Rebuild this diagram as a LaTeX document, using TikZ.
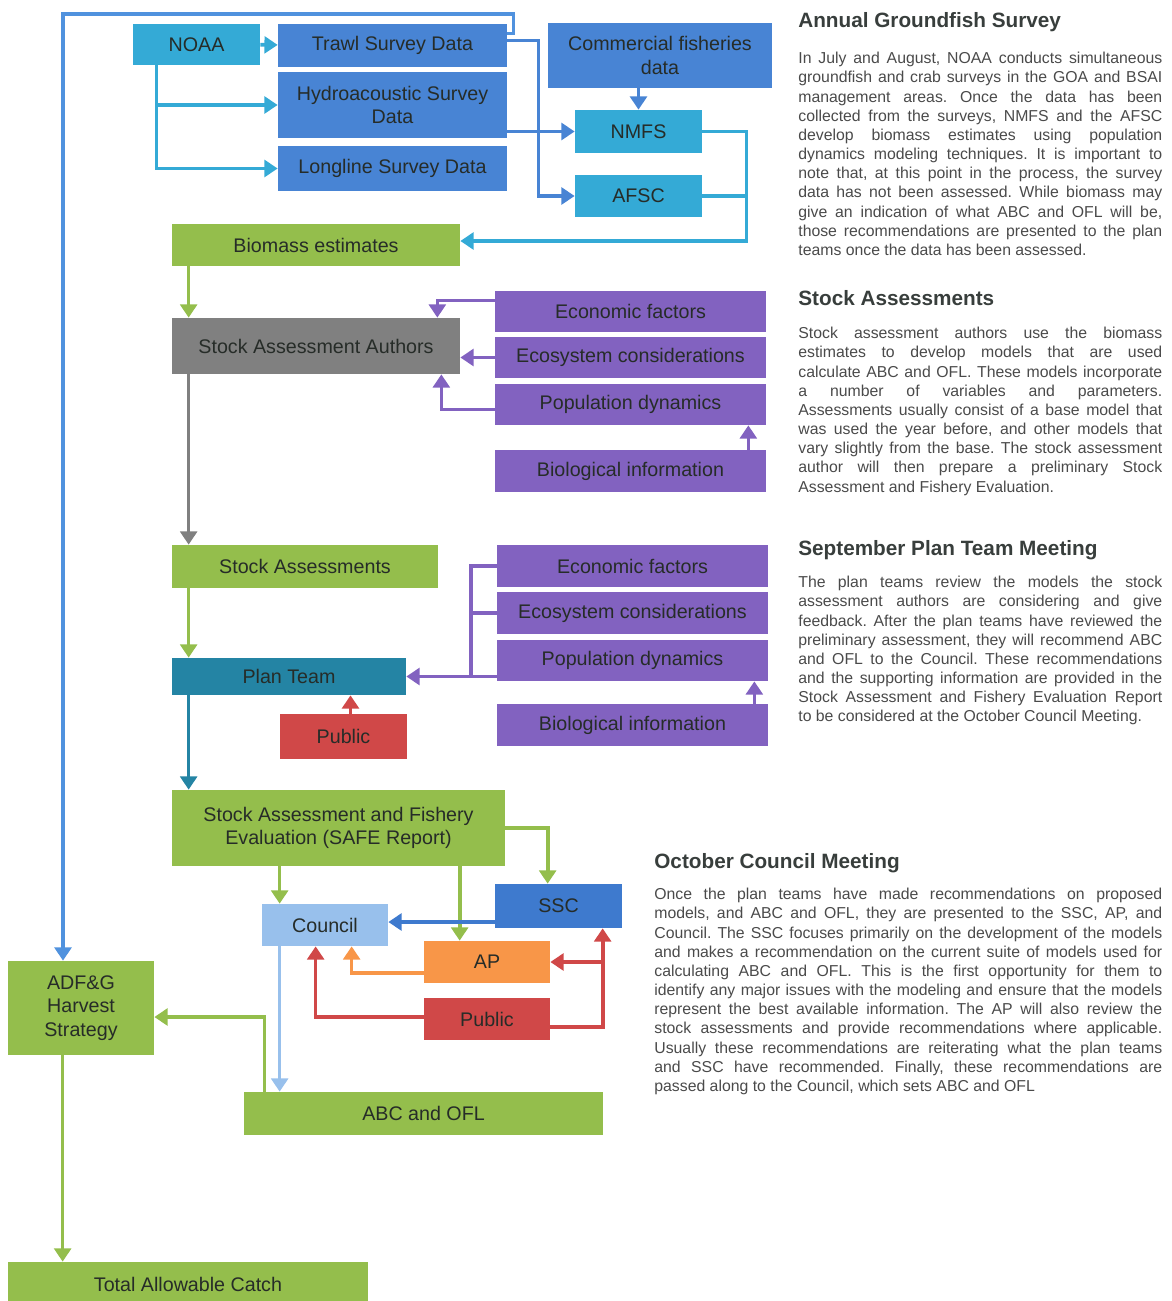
\documentclass[tikz,border=0pt]{standalone}
\usepackage{fontspec}
\setmainfont{Liberation Sans}
\usetikzlibrary{arrows.meta,calc}
\definecolor{noaacyan}{RGB}{52,170,214}
\definecolor{datablue}{RGB}{72,132,212}
\definecolor{loopblue}{RGB}{80,146,222}
\definecolor{leafgreen}{RGB}{148,190,76}
\definecolor{authgray}{RGB}{128,128,128}
\definecolor{factpurple}{RGB}{130,98,192}
\definecolor{teamteal}{RGB}{36,132,164}
\definecolor{pubred}{RGB}{208,72,72}
\definecolor{sscblue}{RGB}{62,122,206}
\definecolor{councilblue}{RGB}{152,192,236}
\definecolor{aporange}{RGB}{248,150,72}
\definecolor{inkdark}{RGB}{38,44,40}
\definecolor{headgray}{RGB}{56,62,60}
\definecolor{bodygray}{RGB}{74,74,74}
\newcommand{\boxfont}{\fontsize{11.2}{13.4}\selectfont}
\newcommand{\bodyfont}{\fontsize{9}{10.9}\selectfont\hyphenpenalty=10000\frenchspacing}
\newcommand{\headfont}{\fontsize{11.8}{14}\selectfont\bfseries}

\begin{document}
\begin{tikzpicture}[x=0.02cm,y=-0.02cm,
  box/.style={rectangle,fill=#1,text=inkdark,inner sep=1pt,align=center,font=\boxfont},
  dims/.style 2 args={minimum width=#1*0.02cm,minimum height=#2*0.02cm},
  link/.style={draw=#1,line width=2.1pt,-{Triangle[width=9.5pt,length=7.5pt]}},
  wire/.style={draw=#1,line width=2.1pt},
  head/.style={anchor=base west,inner sep=0pt,font=\headfont,text=headgray},
  body/.style={anchor=north west,inner sep=0pt,font=\bodyfont,text=bodygray,align=justify,text width=#1}]
\useasboundingbox (0,0) rectangle (1171,1301);

% survey data
\node[box=noaacyan,dims={127}{41}] (noaa) at (196.5,44.5) {NOAA};
\node[box=datablue,dims={229}{43}] (trawl) at (392.5,45.5) {Trawl Survey Data};
\node[box=datablue,dims={229}{66}] (hydro) at (392.5,105) {Hydroacoustic Survey\\Data};
\node[box=datablue,dims={229}{45}] (longline) at (392.5,168.5) {Longline Survey Data};
\node[box=datablue,dims={224}{65}] (commercial) at (660,55.5) {Commercial fisheries\\data};
\node[box=noaacyan,dims={127}{43}] (nmfs) at (638.5,131.5) {NMFS};
\node[box=noaacyan,dims={127}{42}] (afsc) at (638.5,196) {AFSC};
\node[box=leafgreen,dims={288}{42}] (biomass) at (316,245) {Biomass estimates};

% stock assessment authors
\node[box=authgray,dims={288}{56}] (authors) at (316,346) {Stock Assessment Authors};
\node[box=factpurple,dims={271}{41}] (econA) at (630.5,311.5) {Economic factors};
\node[box=factpurple,dims={271}{41}] (ecoA) at (630.5,357.5) {Ecosystem considerations};
\node[box=factpurple,dims={271}{41}] (popA) at (630.5,404.5) {Population dynamics};
\node[box=factpurple,dims={271}{42}] (bioA) at (630.5,471) {Biological information};

% plan team
\node[box=leafgreen,dims={266}{43}] (stockA) at (305,566.5) {Stock Assessments};
\node[box=factpurple,dims={271}{42}] (econB) at (632.5,566) {Economic factors};
\node[box=factpurple,dims={271}{42}] (ecoB) at (632.5,613) {Ecosystem considerations};
\node[box=factpurple,dims={271}{41}] (popB) at (632.5,660.5) {Population dynamics};
\node[box=factpurple,dims={271}{42}] (bioB) at (632.5,725) {Biological information};
\node[box=teamteal,dims={234}{37}] (planteam) at (289,676.5) {Plan Team};
\node[box=pubred,dims={127}{45}] (publicA) at (343.5,736.5) {Public};

% council
\node[box=leafgreen,dims={333}{76}] (safe) at (338.5,828) {Stock Assessment and Fishery\\Evaluation (SAFE Report)};
\node[box=sscblue,dims={127}{44}] (ssc) at (558.5,906) {SSC};
\node[box=councilblue,dims={126}{42}] (council) at (325,925) {Council};
\node[box=aporange,dims={126}{42}] (ap) at (487,962) {AP};
\node[box=pubred,dims={126}{42}] (publicB) at (487,1019) {Public};
\node[box=leafgreen,dims={146}{94}] (adfg) at (81,1008) {ADF\&G\\Harvest\\Strategy};
\node[box=leafgreen,dims={359}{43}] (abcofl) at (423.5,1113.5) {ABC and OFL};
\node[box=leafgreen,dims={360}{44}] (tac) at (188,1284) {Total Allowable Catch};

% connectors, top part
\coordinate (loopcorner) at (63,14);
\draw[link=loopblue] ($(trawl.east)+(0,-12)$) -- ++(6,0) |- (loopcorner) -- (loopcorner |- adfg.north);
\draw[link=noaacyan] (noaa) -- (trawl);
\draw[link=noaacyan] ($(noaa.south west)+(24,0)$) |- (hydro);
\draw[link=noaacyan] ($(noaa.south west)+(24,0)$) |- (longline);
\draw[link=datablue] ($(trawl.east)+(0,-5)$) -- ++(31,0) |- (afsc);
\draw[link=datablue] (hydro.east |- nmfs) -- (nmfs);
\draw[link=datablue] (commercial.south -| nmfs) -- (nmfs);
\draw[link=noaacyan] (nmfs.east) -- ++(44,0) |- ($(biomass.east)+(0,-4)$);
\draw[wire=noaacyan] (afsc.east) -- ++(44,0);
\draw[link=leafgreen] ($(biomass.south west)+(17,0)$) -- ($(authors.north west)+(17,0)$);

% factors into the authors
\draw[link=factpurple] ($(econA.west)+(0,-11)$) -| ($(authors.north east)+(-23,0)$);
\draw[link=factpurple] (ecoA.west) -- (authors.east |- ecoA.west);
\draw[link=factpurple] ($(popA.west)+(0,5)$) -| ($(authors.south east)+(-19,0)$);
\draw[link=factpurple] ($(bioA.north east)+(-18,0)$) -- ($(popA.south east)+(-18,0)$);
\draw[link=authgray] ($(authors.south west)+(17,0)$) -- ($(stockA.north west)+(17,0)$);
\draw[link=leafgreen] ($(stockA.south west)+(17,0)$) -- ($(planteam.north west)+(17,0)$);

% factors into the plan team
\coordinate (factjoin) at ($(econB.west)+(-26,0)$);
\draw[wire=factpurple] (econB.west) -- (factjoin) -- (factjoin |- planteam);
\draw[wire=factpurple] (ecoB.west) -- (factjoin |- ecoB.west);
\draw[link=factpurple] (popB.west |- planteam) -- (planteam);
\draw[link=factpurple] ($(bioB.north east)+(-14,0)$) -- ($(popB.south east)+(-14,0)$);
\coordinate (pubtip) at ($(publicA.north)+(7,0)$);
\draw[link=pubred] (pubtip) -- (pubtip |- planteam.south);
\draw[link=teamteal] ($(planteam.south west)+(17,0)$) -- ($(safe.north west)+(17,0)$);

% council meeting
\coordinate (cnl) at ($(council.north west)+(18,0)$);
\coordinate (apl) at ($(ap.north west)+(36,0)$);
\draw[link=leafgreen] (cnl |- safe.south) -- (cnl);
\draw[link=leafgreen] (apl |- safe.south) -- (apl);
\draw[link=leafgreen] (safe.east) -| ($(ssc.north west)+(53,0)$);
\coordinate (sscout) at ($(ssc.west)+(0,16)$);
\draw[link=sscblue] (sscout) -- (council.east |- sscout);
\draw[link=aporange] ($(ap.west)+(0,11)$) -| ($(council.south west)+(90,0)$);
\draw[link=pubred] ($(publicB.west)+(0,-2)$) -| ($(council.south west)+(54,0)$);
\coordinate (redjoin) at ($(ssc.south west)+(108,0)$);
\draw[link=pubred] ($(publicB.east)+(0,8)$) -| (redjoin);
\draw[link=pubred] (redjoin |- ap.east) -- (ap.east);
\draw[link=councilblue] (cnl |- council.south) -- (cnl |- abcofl.north);
\draw[link=leafgreen] ($(abcofl.north west)+(21,0)$) |- ($(adfg.east)+(0,9)$);
\draw[link=leafgreen] ($(adfg.south west)+(55,0)$) -- ($(tac.north west)+(55,0)$);

% side texts
\node[head] (headsurvey) at (798,28) {Annual Groundfish Survey};
\node[body=7.28cm] (textsurvey) at (798,52) {In July and August, NOAA conducts simultaneous\linebreak
groundfish and crab surveys in the GOA and BSAI\linebreak
management areas. Once the data has been\linebreak
collected from the surveys, NMFS and the AFSC\linebreak
develop biomass estimates using population\linebreak
dynamics modeling techniques. It is important to\linebreak
note that, at this point in the process, the survey\linebreak
data has not been assessed. While biomass may\linebreak
give an indication of what ABC and OFL will be,\linebreak
those recommendations are presented to the plan\linebreak
teams once the data has been assessed.};
\node[head] (headstock) at (798,305) {Stock Assessments};
\node[body=7.28cm] (textstock) at (798,327) {Stock assessment authors use the biomass\linebreak
estimates to develop models that are used\linebreak
calculate ABC and OFL. These models incorporate\linebreak
a number of variables and parameters.\linebreak
Assessments usually consist of a base model that\linebreak
was used the year before, and other models that\linebreak
vary slightly from the base. The stock assessment\linebreak
author will then prepare a preliminary Stock\linebreak
Assessment and Fishery Evaluation.};
\node[head] (headplan) at (798,555) {September Plan Team Meeting};
\node[body=7.28cm] (textplan) at (798,576) {The plan teams review the models the stock\linebreak
assessment authors are considering and give\linebreak
feedback. After the plan teams have reviewed the\linebreak
preliminary assessment, they will recommend ABC\linebreak
and OFL to the Council. These recommendations\linebreak
and the supporting information are provided in the\linebreak
Stock Assessment and Fishery Evaluation Report\linebreak
to be considered at the October Council Meeting.};
\node[head] (headcouncil) at (654,868) {October Council Meeting};
\node[body=10.16cm] (textcouncil) at (654,888) {Once the plan teams have made recommendations on proposed\linebreak
models, and ABC and OFL, they are presented to the SSC, AP, and\linebreak
Council. The SSC focuses primarily on the development of the models\linebreak
and makes a recommendation on the current suite of models used for\linebreak
calculating ABC and OFL. This is the first opportunity for them to\linebreak
identify any major issues with the modeling and ensure that the models\linebreak
represent the best available information. The AP will also review the\linebreak
stock assessments and provide recommendations where applicable.\linebreak
Usually these recommendations are reiterating what the plan teams\linebreak
and SSC have recommended. Finally, these recommendations are\linebreak
passed along to the Council, which sets ABC and OFL};
\end{tikzpicture}
\end{document}
